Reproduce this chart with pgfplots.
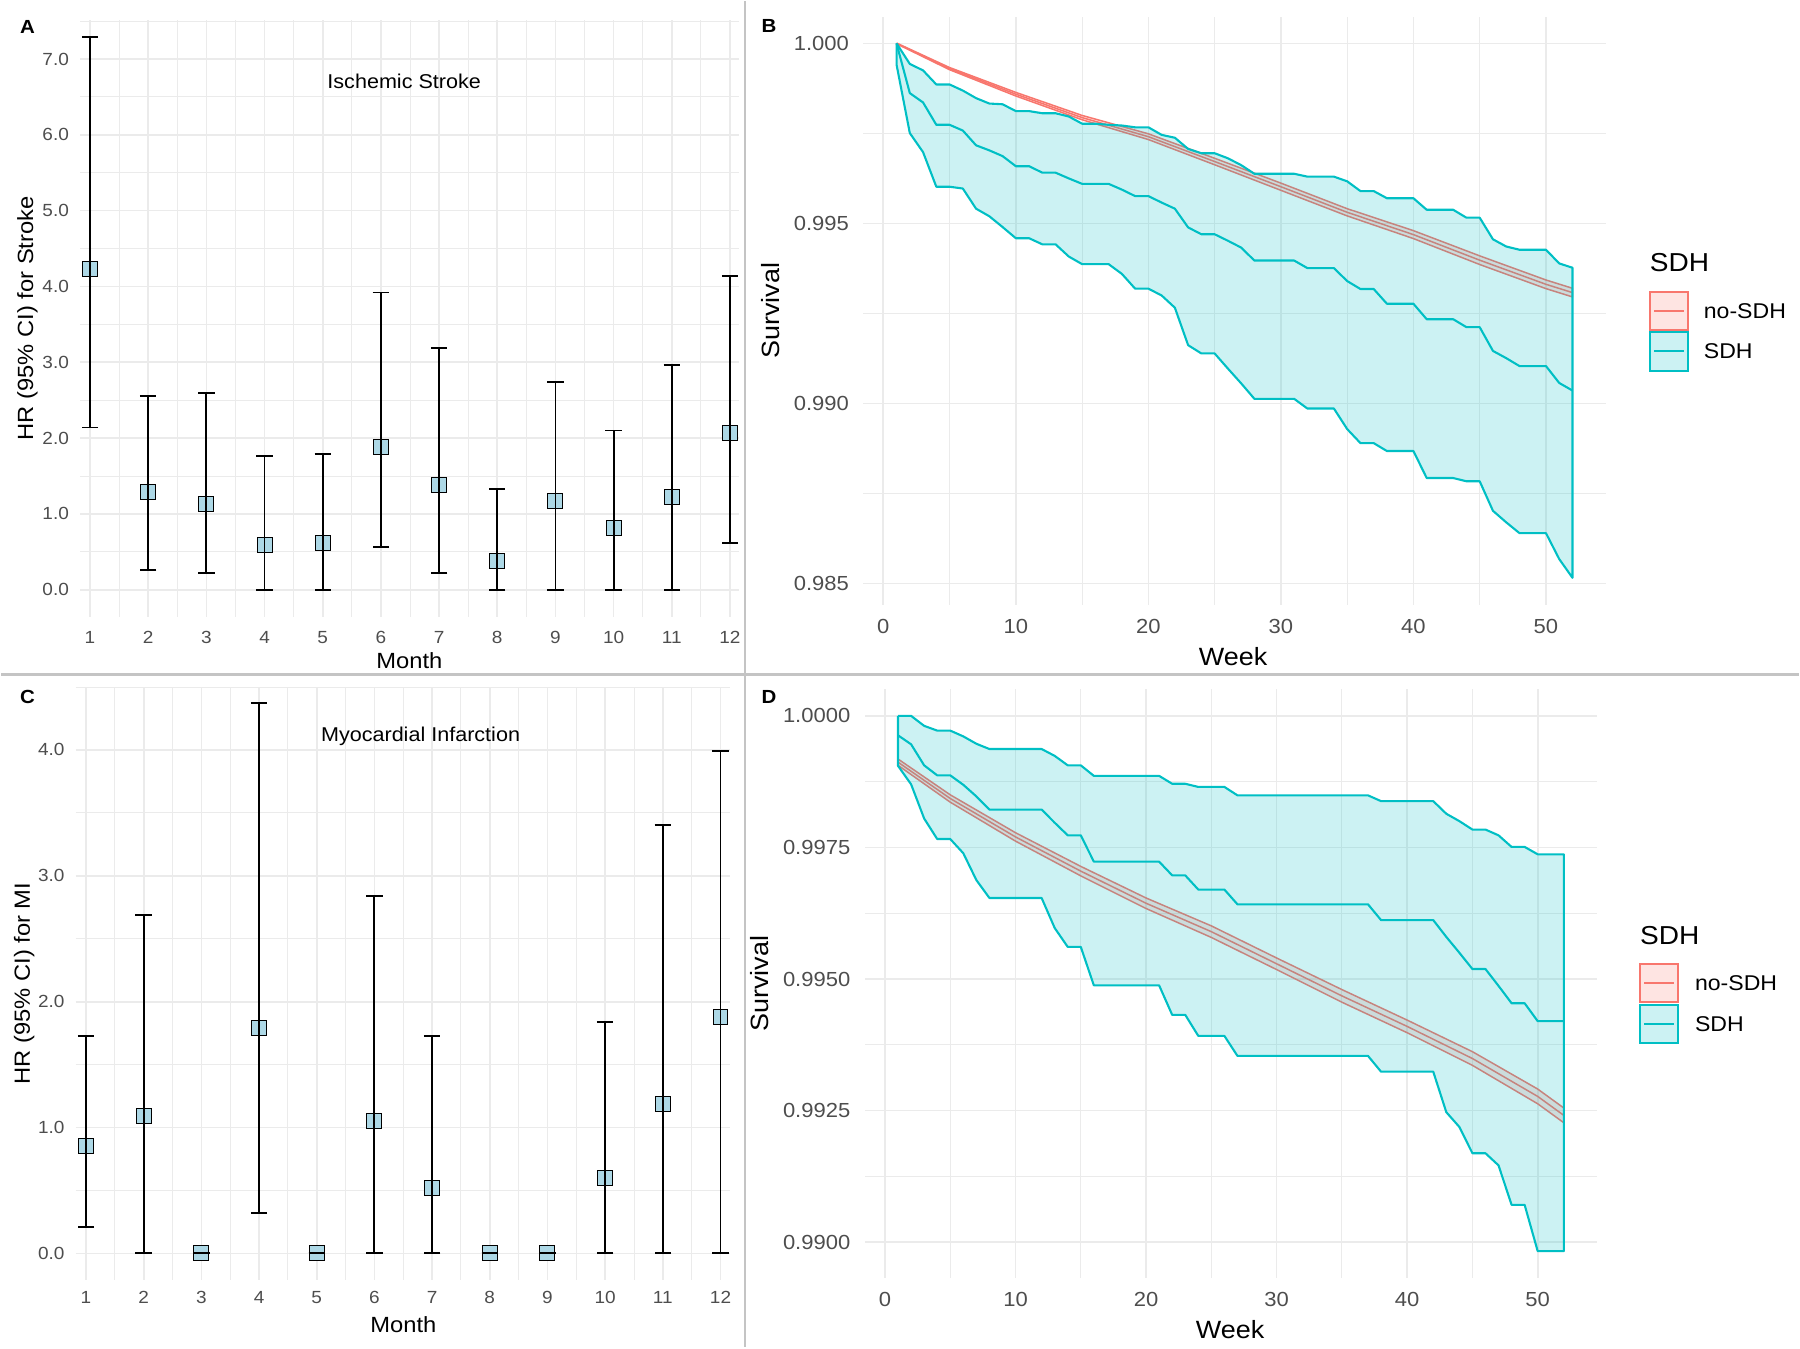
\documentclass[border=0pt]{standalone}
\usepackage{fontspec}
\setmainfont{Liberation Sans}[FakeStretch=1.08]
\usepackage{pgfplots}
\pgfplotsset{compat=1.18}
\usepackage{pgfplotstable}
\definecolor{sdhred}{HTML}{F8766D}
\definecolor{sdhcyan}{HTML}{00BFC4}
\definecolor{redkey}{HTML}{FEE4E2}
\definecolor{cyankey}{HTML}{CCF2F3}
\definecolor{gridc}{HTML}{EBEBEB}
\definecolor{tickc}{HTML}{4D4D4D}
\definecolor{ptfill}{HTML}{ADD8E6}
\definecolor{sepc}{HTML}{C4C4C4}

% Panel A: HR and 95% CI for stroke by month
\pgfplotstableread{
m y lo hi
1 4.23 2.14 7.29
2 1.29 0.26 2.55
3 1.13 0.22 2.59
4 0.59 0.00 1.76
5 0.62 0.00 1.79
6 1.88 0.57 3.92
7 1.38 0.22 3.19
8 0.38 0.00 1.33
9 1.17 0.00 2.74
10 0.81 0.00 2.10
11 1.22 0.00 2.97
12 2.07 0.62 4.14
}\tabA

% Panel C: HR and 95% CI for MI by month
\pgfplotstableread{
m y lo hi
1 0.85 0.21 1.73
2 1.09 0.00 2.69
3 0.00 0.00 0.00
4 1.79 0.32 4.37
5 0.00 0.00 0.00
6 1.05 0.00 2.84
7 0.52 0.00 1.73
8 0.00 0.00 0.00
9 0.00 0.00 0.00
10 0.60 0.00 1.84
11 1.19 0.00 3.40
12 1.88 0.00 3.99
}\tabC

% Panel B, SDH ribbon: upper CI weeks 1..52, then lower CI weeks 52..1
\pgfplotstableread{
w v
1 1.00000
2 0.99943
3 0.99925
4 0.99886
5 0.99886
6 0.99869
7 0.99848
8 0.99833
9 0.99831
10 0.99812
11 0.99812
12 0.99806
13 0.99806
14 0.99797
15 0.99777
16 0.99777
17 0.99774
18 0.99772
19 0.99767
20 0.99767
21 0.99746
22 0.99738
23 0.99707
24 0.99695
25 0.99695
26 0.99681
27 0.99662
28 0.99638
29 0.99638
30 0.99638
31 0.99638
32 0.99630
33 0.99630
34 0.99630
35 0.99617
36 0.99590
37 0.99590
38 0.99570
39 0.99570
40 0.99570
41 0.99538
42 0.99538
43 0.99538
44 0.99516
45 0.99516
46 0.99456
47 0.99436
48 0.99427
49 0.99427
50 0.99427
51 0.99389
52 0.99377
52 0.98516
51 0.98568
50 0.98640
49 0.98640
48 0.98640
47 0.98670
46 0.98702
45 0.98784
44 0.98784
43 0.98793
42 0.98793
41 0.98793
40 0.98868
39 0.98868
38 0.98868
37 0.98890
36 0.98890
35 0.98929
34 0.98986
33 0.98986
32 0.98986
31 0.99013
30 0.99013
29 0.99013
28 0.99013
27 0.99056
26 0.99097
25 0.99139
24 0.99139
23 0.99162
22 0.99266
21 0.99300
20 0.99319
19 0.99319
18 0.99360
17 0.99387
16 0.99387
15 0.99387
14 0.99408
13 0.99442
12 0.99442
11 0.99459
10 0.99459
9 0.99490
8 0.99520
7 0.99541
6 0.99597
5 0.99602
4 0.99602
3 0.99698
2 0.99751
1 0.99941
1 1.00000
}\tabBpoly

% Panel B, SDH survival estimate
\pgfplotstableread{
w v
1 1.00000
2 0.99862
3 0.99836
4 0.99774
5 0.99774
6 0.99758
7 0.99717
8 0.99703
9 0.99687
10 0.99659
11 0.99659
12 0.99641
13 0.99641
14 0.99625
15 0.99610
16 0.99610
17 0.99610
18 0.99594
19 0.99576
20 0.99576
21 0.99558
22 0.99541
23 0.99489
24 0.99470
25 0.99470
26 0.99452
27 0.99433
28 0.99397
29 0.99397
30 0.99397
31 0.99397
32 0.99376
33 0.99376
34 0.99376
35 0.99340
36 0.99318
37 0.99318
38 0.99277
39 0.99277
40 0.99277
41 0.99234
42 0.99234
43 0.99234
44 0.99212
45 0.99212
46 0.99146
47 0.99126
48 0.99104
49 0.99104
50 0.99104
51 0.99057
52 0.99036
}\tabBmid

% Panel B, no-SDH ribbon (upper then lower reversed) and estimate
\pgfplotstableread{
w v
1 1.00001
5 0.99933
10 0.99864
15 0.99800
20 0.99749
25 0.99681
30 0.99612
35 0.99541
40 0.99480
45 0.99410
50 0.99343
52 0.99320
52 0.99296
50 0.99319
45 0.99386
40 0.99458
35 0.99521
30 0.99592
25 0.99663
20 0.99733
15 0.99788
10 0.99854
5 0.99927
1 0.99999
1 1.00001
}\tabBrpoly
\pgfplotstableread{
w v
1 1.00000
5 0.99930
10 0.99859
15 0.99794
20 0.99741
25 0.99672
30 0.99602
35 0.99531
40 0.99469
45 0.99398
50 0.99331
52 0.99308
}\tabBrmid

% Panel D, SDH ribbon: upper CI, then lower CI reversed
\pgfplotstableread{
w v
1 1.00000
2 1.00000
3 0.99981
4 0.99972
5 0.99972
6 0.99961
7 0.99947
8 0.99937
12 0.99937
13 0.99924
14 0.99906
15 0.99906
16 0.99886
21 0.99886
22 0.99871
23 0.99871
24 0.99865
26 0.99865
27 0.99849
37 0.99849
38 0.99838
42 0.99838
43 0.99814
44 0.99800
45 0.99784
46 0.99784
47 0.99773
48 0.99751
49 0.99751
50 0.99737
52 0.99737
52 0.98983
50 0.98983
49 0.99071
48 0.99071
47 0.99146
46 0.99169
45 0.99169
44 0.99219
43 0.99247
42 0.99324
38 0.99324
37 0.99354
27 0.99354
26 0.99392
24 0.99392
23 0.99432
22 0.99432
21 0.99488
16 0.99488
15 0.99561
14 0.99561
13 0.99597
12 0.99654
8 0.99654
7 0.99688
6 0.99739
5 0.99766
4 0.99766
3 0.99805
2 0.99870
1 0.99905
1 1.00000
}\tabDpoly

% Panel D, SDH survival estimate
\pgfplotstableread{
w v
1 0.99963
2 0.99946
3 0.99906
4 0.99887
5 0.99887
6 0.99869
7 0.99847
8 0.99822
12 0.99822
13 0.99797
14 0.99773
15 0.99773
16 0.99723
21 0.99723
22 0.99697
23 0.99697
24 0.99670
26 0.99670
27 0.99642
37 0.99642
38 0.99612
42 0.99612
43 0.99580
44 0.99550
45 0.99519
46 0.99519
47 0.99487
48 0.99454
49 0.99454
50 0.99420
52 0.99420
}\tabDmid

% Panel D, no-SDH ribbon and estimate
\pgfplotstableread{
w v
1 0.99918
5 0.99850
10 0.99778
15 0.99714
20 0.99654
25 0.99601
30 0.99540
35 0.99480
40 0.99422
45 0.99362
50 0.99291
52 0.99255
52 0.99227
50 0.99263
45 0.99336
40 0.99398
35 0.99456
30 0.99518
25 0.99579
20 0.99634
15 0.99696
10 0.99762
5 0.99836
1 0.99906
1 0.99918
}\tabDrpoly
\pgfplotstableread{
w v
1 0.99912
5 0.99843
10 0.99770
15 0.99705
20 0.99644
25 0.99590
30 0.99529
35 0.99468
40 0.99410
45 0.99349
50 0.99277
52 0.99241
}\tabDrmid

\pgfplotsset{
  panel/.style={
    scale only axis, anchor=south west,
    axis line style={draw=none},
    major tick length=0pt, minor tick length=0pt,
    grid=both,
    major grid style={line width=0.85pt, draw=gridc},
    minor grid style={line width=0.45pt, draw=gridc},
    tick label style={text=tickc},
    xlabel style={anchor=center},
    ylabel style={anchor=center},
  },
  panelAC/.style={panel, set layers,
    tick label style={font=\fontsize{8.8}{10}\selectfont},
    label style={font=\fontsize{11}{13}\selectfont},
    xtick={1,...,12}, xticklabels={1,2,3,4,5,6,7,8,9,10,11,12},
    minor xtick={1.5,2.5,...,11.5},
  },
  panelBD/.style={panel,
    tick label style={font=\fontsize{10.2}{12}\selectfont},
    label style={font=\fontsize{12.5}{14}\selectfont},
    xmin=-1.55, xmax=54.55,
    xtick={0,10,...,50}, xticklabels={0,10,20,30,40,50},
    minor xtick={5,15,...,45},
    xlabel={Week}, ylabel={Survival},
  },
  sqmark/.style={only marks, mark=square*, mark size=3.75pt,
    mark options={fill=ptfill, draw=black, line width=0.5pt}},
  ebar/.style={draw=none, mark=none, on layer=axis foreground,
    error bars/.cd, y dir=both, y explicit,
    error mark=|,
    error bar style={draw=black, line width=0.95pt, solid},
    error mark options={draw=black, line width=0.95pt, mark size=4.1pt}},
  redrib/.style={sdhred, line width=0.75pt, line join=round, fill=sdhred, fill opacity=0.2},
  redline/.style={sdhred, line width=0.75pt, line join=round},
  cyanrib/.style={sdhcyan, line width=1.05pt, line join=round, fill=sdhcyan, fill opacity=0.2},
  cyanline/.style={sdhcyan, line width=1.05pt, line join=round},
}

\begin{document}
\begin{tikzpicture}
\path (0,0) rectangle (900pt,674.5pt);

% ---------------- Panel A
\begin{axis}[panelAC, at={(39.5pt,365.85pt)}, width=329.75pt, height=299.15pt,
  xmin=0.83, xmax=12.15, ymin=-0.36, ymax=7.52,
  ytick={0,...,7}, yticklabels={0.0,1.0,2.0,3.0,4.0,5.0,6.0,7.0},
  minor ytick={0.5,1.5,...,7.5},
  xticklabel shift=3.8pt, yticklabel shift=2.1pt,
  xlabel={Month}, ylabel={HR (95\% CI) for Stroke},
  xlabel style={at={(axis description cs:0.5,-0.0735)}},
  ylabel style={at={(axis description cs:-0.080,0.5)}},
]
\addplot[sqmark] table[x=m,y=y] {\tabA};
\addplot[ebar] table[x=m, y=y, y error plus expr=\thisrow{hi}-\thisrow{y}, y error minus expr=\thisrow{y}-\thisrow{lo}] {\tabA};
\node[font=\fontsize{10}{12}\selectfont] at (axis cs:6.40,6.70) {Ischemic Stroke};
\end{axis}

% ---------------- Panel C
\begin{axis}[panelAC, at={(37.25pt,33.85pt)}, width=327.5pt, height=297pt,
  xmin=0.82, xmax=12.16, ymin=-0.213, ymax=4.50,
  ytick={0,...,4}, yticklabels={0.0,1.0,2.0,3.0,4.0},
  minor ytick={0.5,1.5,...,4.5},
  xticklabel shift=2.0pt, yticklabel shift=2.0pt,
  xlabel={Month}, ylabel={HR (95\% CI) for MI},
  xlabel style={at={(axis description cs:0.501,-0.075)}},
  ylabel style={at={(axis description cs:-0.0786,0.5)}},
]
\addplot[sqmark] table[x=m,y=y] {\tabC};
\addplot[ebar] table[x=m, y=y, y error plus expr=\thisrow{hi}-\thisrow{y}, y error minus expr=\thisrow{y}-\thisrow{lo}] {\tabC};
\node[font=\fontsize{10}{12}\selectfont] at (axis cs:6.80,4.11) {Myocardial Infarction};
\end{axis}

% ---------------- Panel B
\begin{axis}[panelBD, at={(431.35pt,372pt)}, width=372.25pt, height=294.4pt,
  ymin=0.98441, ymax=1.00074,
  ytick={0.985,0.99,0.995,1}, yticklabels={0.985,0.990,0.995,1.000},
  minor ytick={0.9875,0.9925,0.9975},
  xticklabel shift=3.75pt, yticklabel shift=3.4pt,
  xlabel style={at={(axis description cs:0.498,-0.088)}},
  ylabel style={at={(axis description cs:-0.124,0.5)}},
]
\addplot[redrib] table[x=w,y=v] {\tabBrpoly};
\addplot[redline] table[x=w,y=v] {\tabBrmid};
\addplot[cyanrib] table[x=w,y=v] {\tabBpoly};
\addplot[cyanline] table[x=w,y=v] {\tabBmid};
\end{axis}

% ---------------- Panel D
\begin{axis}[panelBD, at={(432.35pt,34.95pt)}, width=366.65pt, height=294.85pt,
  ymin=0.98932, ymax=1.000509,
  ytick={0.99,0.9925,0.995,0.9975,1}, yticklabels={0.9900,0.9925,0.9950,0.9975,1.0000},
  minor ytick={0.99125,0.99375,0.99625,0.99875},
  xticklabel shift=3.45pt, yticklabel shift=3.7pt,
  xlabel style={at={(axis description cs:0.499,-0.087)}},
  ylabel style={at={(axis description cs:-0.143,0.5)}},
]
\addplot[redrib] table[x=w,y=v] {\tabDrpoly};
\addplot[redline] table[x=w,y=v] {\tabDrmid};
\addplot[cyanrib] table[x=w,y=v] {\tabDpoly};
\addplot[cyanline] table[x=w,y=v] {\tabDmid};
\end{axis}

% ---------------- separators, panel letters, legends (pixel frame)
\begin{scope}[x=0.5pt, y=-0.5pt, yshift=674.5pt]
\draw[sepc, line width=1.2pt] (745,0.6) -- (745,1348.4);
\draw[sepc, line width=1.2pt] (0,675) -- (1800,675);
\node[font=\bfseries\fontsize{9.5}{11}\selectfont] at (26.3,26.9) {A};
\node[font=\bfseries\fontsize{9.5}{11}\selectfont] at (768.8,25.2) {B};
\node[font=\bfseries\fontsize{9.5}{11}\selectfont] at (26.3,696.8) {C};
\node[font=\bfseries\fontsize{9.5}{11}\selectfont] at (768.8,697) {D};
% legend B
\node[anchor=west, inner sep=0, font=\fontsize{13}{15}\selectfont] at (1650.5,262.5) {SDH};
\draw[sdhred, fill=redkey, line width=1pt] (1651,291.5) rectangle (1689.5,329.5);
\draw[sdhred, line width=1pt] (1655,310.5) -- (1685.5,310.5);
\node[anchor=west, inner sep=0, font=\fontsize{10.7}{12}\selectfont] at (1704.5,310.5) {no-SDH};
\draw[sdhcyan, fill=cyankey, line width=1pt] (1651,332) rectangle (1689.5,370.5);
\draw[sdhcyan, line width=1pt] (1655,351.3) -- (1685.5,351.3);
\node[anchor=west, inner sep=0, font=\fontsize{10.7}{12}\selectfont] at (1704.5,351.5) {SDH};
% legend D
\node[anchor=west, inner sep=0, font=\fontsize{13}{15}\selectfont] at (1640.8,936.5) {SDH};
\draw[sdhred, fill=redkey, line width=1pt] (1641.3,964.8) rectangle (1679.5,1003);
\draw[sdhred, line width=1pt] (1645.3,984) -- (1675.5,984);
\node[anchor=west, inner sep=0, font=\fontsize{10.7}{12}\selectfont] at (1695.7,984) {no-SDH};
\draw[sdhcyan, fill=cyankey, line width=1pt] (1641.3,1005.6) rectangle (1679.5,1043.8);
\draw[sdhcyan, line width=1pt] (1645.3,1025) -- (1675.5,1025);
\node[anchor=west, inner sep=0, font=\fontsize{10.7}{12}\selectfont] at (1695.7,1025) {SDH};
\end{scope}
\end{tikzpicture}
\end{document}
